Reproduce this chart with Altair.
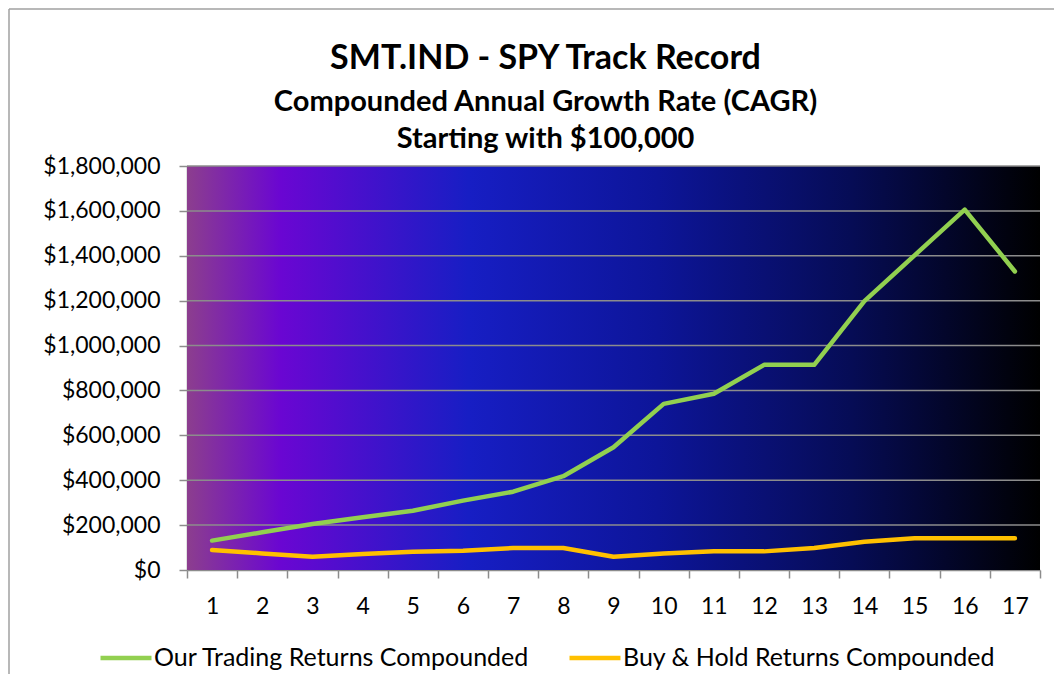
import altair as alt
import pandas as pd

years = list(range(1, 18))
trading = [131000, 168000, 205000, 235000, 264000, 309000, 349000, 418000, 547000,
           740000, 785000, 914000, 914000, 1198000, 1402000, 1606000, 1330000]
buyhold = [89000, 74000, 59000, 71000, 81000, 86000, 98000, 98000, 59000,
           74000, 83000, 83000, 98000, 126000, 141000, 141000, 141000]
series_names = ["Our Trading Returns Compounded", "Buy & Hold Returns Compounded"]
series_colors = ["#92D050", "#FFC000"]
y_ticks = [0, 200000, 400000, 600000, 800000, 1000000, 1200000, 1400000, 1600000, 1800000]

rows = []
for i, yr in enumerate(years):
    rows.append({"year": yr, "value": trading[i], "series": series_names[0]})
    rows.append({"year": yr, "value": buyhold[i], "series": series_names[1]})
df = pd.DataFrame(rows)

W, H = 853, 404
PAD_R, PAD_B = 14, 104
FONT = "Lato"
GRAY = "#8C8C8C"

yscale = alt.Scale(domain=[0, 1800000], nice=False, zero=True)
one = alt.Data(values=[{"k": 1}])

bg = alt.Chart(one).mark_rect(
    fill=alt.Gradient(
        gradient="linear", x1=0, x2=1, y1=0, y2=0,
        stops=[
            alt.GradientStop(offset=0.0, color="#8C3E8E"),
            alt.GradientStop(offset=0.11, color="#6A06D2"),
            alt.GradientStop(offset=0.33, color="#171EC4"),
            alt.GradientStop(offset=0.55, color="#0D1599"),
            alt.GradientStop(offset=0.78, color="#060C55"),
            alt.GradientStop(offset=1.0, color="#000000"),
        ],
    )
).encode(x=alt.value(0), x2=alt.value(W), y=alt.value(0), y2=alt.value(H))

border_left = alt.Chart(one).mark_rule(color="#A0A0A0", strokeWidth=1.5).encode(
    x=alt.value(-178), y=alt.value(-157), y2=alt.value(H + PAD_B)
)
border_top = alt.Chart(one).mark_rule(color="#A0A0A0", strokeWidth=1.5).encode(
    x=alt.value(-178), x2=alt.value(W + PAD_R), y=alt.value(-157)
)

grid = alt.Chart(pd.DataFrame({"v": y_ticks[1:]})).mark_rule(
    color=GRAY, strokeWidth=1.5
).encode(y=alt.Y("v:Q", scale=yscale))

lines = alt.Chart(df).mark_line(strokeWidth=4.5, strokeCap="round", strokeJoin="round").encode(
    x=alt.X(
        "year:O",
        bandPosition=0.5,
        scale=alt.Scale(type="band", paddingInner=0, paddingOuter=0),
        axis=alt.Axis(
            title=None, tickBand="extent", labelAngle=0, labelFontSize=23,
            labelFont=FONT, labelColor="#000000", labelPadding=17,
            tickSize=8, tickColor=GRAY, tickWidth=1.5,
            domainColor=GRAY, domainWidth=1.5, grid=False,
        ),
    ),
    y=alt.Y(
        "value:Q",
        scale=yscale,
        axis=alt.Axis(
            title=None, values=y_ticks, format="$,.0f", labelFontSize=23,
            labelFont=FONT, labelColor="#000000", labelPadding=19,
            tickSize=8, tickColor=GRAY, tickWidth=1.5,
            domainColor=GRAY, domainWidth=1.5, grid=False,
        ),
    ),
    color=alt.Color(
        "series:N",
        scale=alt.Scale(domain=series_names, range=series_colors),
        sort=series_names,
        legend=alt.Legend(
            title=None, orient="none", direction="horizontal",
            legendX=-89, legendY=464, symbolType="stroke",
            symbolSize=2600, symbolStrokeWidth=4.5, labelFontSize=25,
            labelFont=FONT, labelColor="#000000", labelOffset=0,
            columnPadding=30, labelLimit=600,
        ),
    ),
    detail="series:N",
)

chart = alt.layer(border_left, border_top, bg, grid, lines).properties(
    width=W,
    height=H,
    padding={"left": 179, "top": 158, "right": PAD_R, "bottom": PAD_B},
    autosize=alt.AutoSizeParams(type="none"),
    title=alt.TitleParams(
        text="SMT.IND - SPY Track Record",
        subtitle=["Compounded Annual Growth Rate (CAGR)", "Starting with $100,000"],
        font=FONT, fontSize=34, fontWeight="bold", color="#000000",
        subtitleFont=FONT, subtitleFontSize=29, subtitleFontWeight="bold",
        subtitleColor="#000000", subtitleLineHeight=37, subtitlePadding=12,
        anchor="middle", offset=-146, dx=-68,
    ),
).configure_view(stroke=None)

chart.save("out.html", embed_options={"renderer": "svg", "actions": False})
